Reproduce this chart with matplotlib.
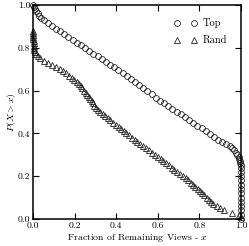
import matplotlib
matplotlib.use("Agg")
import matplotlib.pyplot as plt

# Computer Modern look
plt.rcParams['font.family'] = ['cmr10', 'DejaVu Serif']
plt.rcParams['mathtext.fontset'] = 'cm'
plt.rcParams['axes.formatter.use_mathtext'] = True

# "Top" curve
top_x = [0.000, 0.005, 0.010, 0.016, 0.022, 0.030, 0.040, 0.052,
         0.07, 0.09, 0.11, 0.13, 0.15, 0.17, 0.19, 0.21, 0.23, 0.25,
         0.27, 0.29, 0.31, 0.33, 0.35, 0.37, 0.39, 0.41, 0.43, 0.45,
         0.47, 0.49, 0.51, 0.53, 0.55, 0.57, 0.59, 0.61, 0.63, 0.65,
         0.67, 0.69, 0.71, 0.73, 0.75, 0.77, 0.79, 0.81, 0.83, 0.85,
         0.87, 0.89, 0.91,
         0.930, 0.945, 0.958, 0.968, 0.976, 0.983, 0.988, 0.992, 0.995,
         0.997, 0.998,
         0.999, 0.999, 0.999, 0.999, 0.999, 0.999, 0.999, 0.999, 0.999,
         0.999, 0.999, 0.999, 0.999]
top_y = [1.000, 0.990, 0.980, 0.970, 0.960, 0.950, 0.940, 0.930,
         0.916, 0.902, 0.889, 0.876, 0.863, 0.850, 0.837, 0.824, 0.811, 0.798,
         0.785, 0.772, 0.759, 0.746, 0.733, 0.721, 0.708, 0.695, 0.683, 0.670,
         0.656, 0.641, 0.626, 0.611, 0.597, 0.582, 0.567, 0.553, 0.540, 0.527,
         0.514, 0.501, 0.488, 0.475, 0.462, 0.449, 0.436, 0.423, 0.410, 0.397,
         0.384, 0.371, 0.360,
         0.350, 0.340, 0.330, 0.320, 0.310, 0.300, 0.290, 0.280, 0.270,
         0.260, 0.250,
         0.240, 0.220, 0.200, 0.180, 0.160, 0.140, 0.120, 0.100, 0.080,
         0.060, 0.040, 0.020, 0.000]

# "Rand" curve
rand_x = [0.000, 0.000, 0.001, 0.001, 0.001, 0.002, 0.002, 0.003, 0.004,
          0.005, 0.008, 0.012, 0.022, 0.035, 0.050,
          0.070, 0.090, 0.110, 0.128, 0.144, 0.159, 0.173, 0.186, 0.198,
          0.209, 0.219, 0.228, 0.237, 0.245, 0.253, 0.260, 0.267, 0.274,
          0.281, 0.288, 0.295, 0.304, 0.314, 0.324, 0.335, 0.347, 0.359,
          0.372, 0.385, 0.398, 0.411, 0.424, 0.436, 0.448, 0.460, 0.474,
          0.488, 0.502, 0.516, 0.530, 0.544, 0.558, 0.572, 0.586, 0.600,
          0.613, 0.627, 0.640, 0.653, 0.667, 0.680, 0.693, 0.707, 0.720,
          0.733, 0.747, 0.760, 0.771, 0.781, 0.792, 0.802, 0.813, 0.823,
          0.834, 0.844, 0.855, 0.866, 0.883, 0.900, 0.920, 0.957, 0.990,
          1.000]
rand_y = [0.88, 0.87, 0.86, 0.85, 0.84, 0.83, 0.82, 0.81, 0.80,
          0.79, 0.78, 0.77, 0.76, 0.75, 0.74,
          0.73, 0.72, 0.71, 0.70, 0.69, 0.68, 0.67, 0.66, 0.65,
          0.64, 0.63, 0.62, 0.61, 0.60, 0.59, 0.58, 0.57, 0.56,
          0.55, 0.54, 0.53, 0.52, 0.51, 0.50, 0.49, 0.48, 0.47,
          0.46, 0.45, 0.44, 0.43, 0.42, 0.41, 0.40, 0.39, 0.38,
          0.37, 0.36, 0.35, 0.34, 0.33, 0.32, 0.31, 0.30, 0.29,
          0.28, 0.27, 0.26, 0.25, 0.24, 0.23, 0.22, 0.21, 0.20,
          0.19, 0.18, 0.17, 0.16, 0.15, 0.14, 0.13, 0.12, 0.11,
          0.10, 0.09, 0.08, 0.07, 0.06, 0.05, 0.04, 0.03, 0.02,
          0.01]

ticks = [0.0, 0.2, 0.4, 0.6, 0.8, 1.0]

fig = plt.figure(figsize=(2.49, 2.46), dpi=100)
ax = fig.add_axes([0.133, 0.110, 0.835, 0.870])

ax.plot(top_x, top_y, linestyle='none', marker='o', ms=4.2,
        mfc='none', mec='#222222', mew=0.6, label='Top', clip_on=False)
ax.plot(rand_x, rand_y, linestyle='none', marker='^', ms=3.8,
        mfc='none', mec='#222222', mew=0.6, label='Rand', clip_on=False)

ax.set_xlim(0, 1)
ax.set_ylim(0, 1)
ax.set_xticks(ticks)
ax.set_yticks(ticks)
ax.set_xticklabels(['%.1f' % t for t in ticks])
ax.set_yticklabels(['%.1f' % t for t in ticks])
ax.tick_params(direction='in', top=True, right=True, length=4,
               width=0.8, labelsize=7, pad=2)
for s in ax.spines.values():
    s.set_linewidth(1.1)

ax.set_xlabel('Fraction of Remaining Views - $x$', fontsize=7, labelpad=1)
ax.set_ylabel('$P(X > x)$', fontsize=7, labelpad=0)

ax.legend(loc='upper right', frameon=False, numpoints=2, fontsize=7.5,
          handlelength=2.2, handletextpad=0.6, labelspacing=0.7,
          borderaxespad=0.9)

fig.savefig('out.png', dpi=100)
